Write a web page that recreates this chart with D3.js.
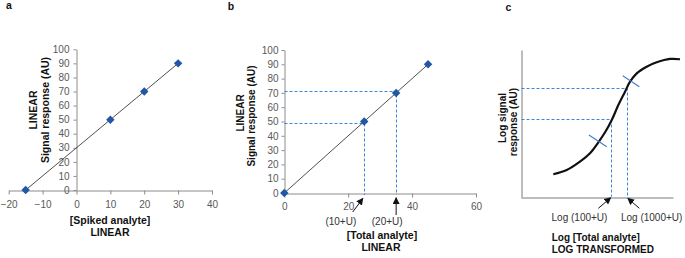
<!DOCTYPE html>
<html><head><meta charset="utf-8">
<script src="https://cdn.jsdelivr.net/npm/d3@7"></script>
<style>
html,body{margin:0;padding:0;background:#fff;}
svg{display:block;font-family:"Liberation Sans",Arial,sans-serif;}
.tick text{fill:#595959;font-size:10px;}
</style></head>
<body>
<svg id="chart" width="685" height="258"></svg>
<script>
// ---- Panel a data ----
const aX = [-15, 10, 20, 30];
const aY = [0, 50, 70, 90];
const aXTicks = [-20, -10, 0, 10, 20, 30, 40];
const aYTicks = [0, 10, 20, 30, 40, 50, 60, 70, 80, 90, 100];
// ---- Panel b data ----
const bX = [0, 25, 35, 45];
const bY = [0, 50, 70, 90];
const bXTicks = [0, 20, 40, 60];
const bXTickLabels = ["0", "20", "40", "60"];
const bYTicks = [0, 10, 20, 30, 40, 50, 60, 70, 80, 90, 100];
const bRefX = [25, 35];
const bRefY = [49, 71];
const bArrowLabels = ["(10+U)", "(20+U)"];
// ---- Panel c data (arbitrary units 0..100) ----
const cCurveX = [21.4, 30.2, 38.9, 45.5, 51.0, 55.4, 59.8, 64.1, 68.5, 71.8, 76.2, 82.7, 89.3, 98.0, 104.6];
const cCurveY = [15.3, 18.2, 23.9, 29.6, 37.1, 43.9, 52.3, 62.5, 71.6, 78.4, 84.1, 88.6, 91.6, 93.9, 93.7];
const cRefX = [59.1, 70.0];
const cRefY = [53.0, 74.3];
const cArrowLabels = ["Log (100+U)", "Log (1000+U)"];

const svg = d3.select("#chart");
const defs = svg.append("defs");
defs.append("marker").attr("id","arr").attr("viewBox","0 0 10 10").attr("refX",9).attr("refY",5)
  .attr("markerWidth",7).attr("markerHeight",7).attr("orient","auto-start-reverse")
  .attr("markerUnits","userSpaceOnUse")
  .append("path").attr("d","M0,0 L10,5 L0,10 z").attr("fill","#111");

const axisCol = "#8c8c8c";
const blue = "#2257a8";
const dashCol = "#3d85d8";
const diamond = d3.symbol(d3.symbolSquare, 36);
const px = v => Math.round(v) + 0.5;

function styleAxis(g){
  g.select(".domain").attr("stroke", axisCol);
  g.selectAll(".tick line").attr("stroke", axisCol);
  g.selectAll(".tick text").attr("font-family","Liberation Sans, Arial, sans-serif");
}
function bold(x, y, txt, size, anchor, rot){
  const t = svg.append("text").attr("font-weight","bold").attr("font-size",size)
    .attr("fill","#111").attr("text-anchor",anchor||"middle").text(txt);
  if(rot){ t.attr("transform",`translate(${x},${y}) rotate(-90)`).attr("dominant-baseline","central"); }
  else t.attr("x",x).attr("y",y);
  return t;
}

// ================= Panel a =================
{
  const x = d3.scaleLinear([-20, 40], [8.7, 212]);
  const y = d3.scaleLinear([0, 100], [190, 49.3]);
  svg.append("g").attr("transform",`translate(0,${px(y(0))})`)
    .call(d3.axisBottom(x).tickValues(aXTicks).tickSize(4).tickSizeOuter(0).tickPadding(6))
    .call(styleAxis);
  svg.append("g").attr("transform",`translate(${px(x(0))},0)`)
    .call(d3.axisLeft(y).tickValues(aYTicks).tickSize(3).tickSizeOuter(0).tickPadding(4))
    .call(styleAxis);
  svg.append("line").attr("x1",x(aX[0])).attr("y1",y(aY[0])).attr("x2",x(aX[3])).attr("y2",y(aY[3]))
    .attr("stroke","#222").attr("stroke-width",0.8);
  svg.append("g").selectAll("path").data(aX).join("path")
    .attr("d", diamond).attr("fill", blue)
    .attr("transform",(d,i)=>`translate(${x(d)},${y(aY[i])}) rotate(45)`);
  bold(33, 110, "LINEAR", "10.5px", "middle", true);
  bold(45, 110, "Signal response (AU)", "10.5px", "middle", true);
  bold(110, 224, "[Spiked analyte]", "10.5px");
  bold(110, 235.5, "LINEAR", "10.5px");
  bold(9, 9, "a", "10.5px");
}

// ================= Panel b =================
{
  const x = d3.scaleLinear([0, 60], [284.3, 476]);
  const y = d3.scaleLinear([0, 100], [193, 50]);
  svg.append("g").attr("transform",`translate(0,${px(y(0))})`)
    .call(d3.axisBottom(x).tickValues(bXTicks).tickFormat((d,i)=>bXTickLabels[i]).tickSize(4).tickSizeOuter(0).tickPadding(5.5))
    .call(styleAxis);
  svg.append("g").attr("transform",`translate(${px(x(0))},0)`)
    .call(d3.axisLeft(y).tickValues(bYTicks).tickSize(3).tickSizeOuter(0).tickPadding(3))
    .call(styleAxis);
  // dashed reference lines
  bRefX.forEach((rx,i)=>{
    svg.append("path").attr("d",`M${px(x(0))},${px(y(bRefY[i]))}H${px(x(rx))}V${y(0)+2}`)
      .attr("fill","none").attr("stroke",dashCol).attr("stroke-width",1).attr("stroke-dasharray","3,2");
  });
  svg.append("line").attr("x1",x(bX[0])).attr("y1",y(bY[0])).attr("x2",x(bX[3])).attr("y2",y(bY[3]))
    .attr("stroke","#222").attr("stroke-width",0.8);
  svg.append("g").selectAll("path").data(bX).join("path")
    .attr("d", diamond).attr("fill", blue)
    .attr("transform",(d,i)=>`translate(${x(d)},${y(bY[i])}) rotate(45)`);
  // arrows (data units)
  const arrows = [[21.4,-13.3,24.6,-3.8],[35,-15.4,35,-3.3]];
  arrows.forEach(a=>{
    svg.append("line").attr("x1",x(a[0])).attr("y1",y(a[1])).attr("x2",x(a[2])).attr("y2",y(a[3]))
      .attr("stroke","#111").attr("stroke-width",1).attr("marker-end","url(#arr)");
  });
  const labX = [17.7, 32.2];
  bArrowLabels.forEach((t,i)=>{
    svg.append("text").attr("x",x(labX[i])).attr("y",225).attr("text-anchor","middle")
      .attr("font-size","10px").attr("fill","#333").text(t);
  });
  bold(240, 113, "LINEAR", "10px", "middle", true);
  bold(251, 116, "Signal response (AU)", "10px", "middle", true);
  bold(382, 238.5, "[Total analyte]", "10.5px");
  bold(381, 250.5, "LINEAR", "10.5px");
  bold(231, 10, "b", "10.5px");
}

// ================= Panel c =================
{
  const x = d3.scaleLinear([0, 100], [520.7, 673]);
  const y = d3.scaleLinear([0, 100], [196.7, 50]);
  const cAxisCol = "#7a7a7a";
  svg.append("g").attr("transform",`translate(0,${px(y(0))})`)
    .call(d3.axisBottom(x).tickValues([]).tickSizeOuter(0))
    .call(g=>g.select(".domain").attr("stroke",cAxisCol));
  svg.append("g").attr("transform",`translate(${px(x(0))},0)`)
    .call(d3.axisLeft(y).tickValues([]).tickSizeOuter(0))
    .call(g=>g.select(".domain").attr("stroke",cAxisCol));
  cRefX.forEach((rx,i)=>{
    svg.append("path").attr("d",`M${px(x(0))},${px(y(cRefY[i]))}H${px(x(rx))}V${y(0)}`)
      .attr("fill","none").attr("stroke",dashCol).attr("stroke-width",1).attr("stroke-dasharray","3,2");
  });
  const line = d3.line().x(d=>x(d[0])).y(d=>y(d[1])).curve(d3.curveCatmullRom);
  svg.append("path").attr("d", line(cCurveX.map((v,i)=>[v,cCurveY[i]])))
    .attr("fill","none").attr("stroke","#111").attr("stroke-width",2.2).attr("stroke-linejoin","round");
  // slope marks crossing curve
  const marks = [[44.8,42.1,56.5,34.1],[67.0,82.5,77.9,75.0]];
  marks.forEach(m=>{
    svg.append("line").attr("x1",x(m[0])).attr("y1",y(m[1])).attr("x2",x(m[2])).attr("y2",y(m[3]))
      .attr("stroke","#3f7fc6").attr("stroke-width",1.1);
  });
  const arrows = [[51.0,-7.9,59.1,-0.7],[77.9,-7.9,70.3,-1.1]];
  arrows.forEach(a=>{
    svg.append("line").attr("x1",x(a[0])).attr("y1",y(a[1])).attr("x2",x(a[2])).attr("y2",y(a[3]))
      .attr("stroke","#111").attr("stroke-width",1).attr("marker-end","url(#arr)");
  });
  const labX = [38.6, 86.0];
  cArrowLabels.forEach((t,i)=>{
    svg.append("text").attr("x",x(labX[i])).attr("y",220.5).attr("text-anchor","middle")
      .attr("font-size","10px").attr("fill","#333").text(t);
  });
  bold(502.5, 118, "Log signal", "10px", "middle", true);
  bold(513, 122, "response (AU)", "10px", "middle", true);
  bold(551.7, 241, "Log [Total analyte]", "10px", "start");
  bold(551.7, 252.5, "LOG TRANSFORMED", "10px", "start");
  bold(508.5, 11, "c", "10.5px");
}
</script>
</body></html>
